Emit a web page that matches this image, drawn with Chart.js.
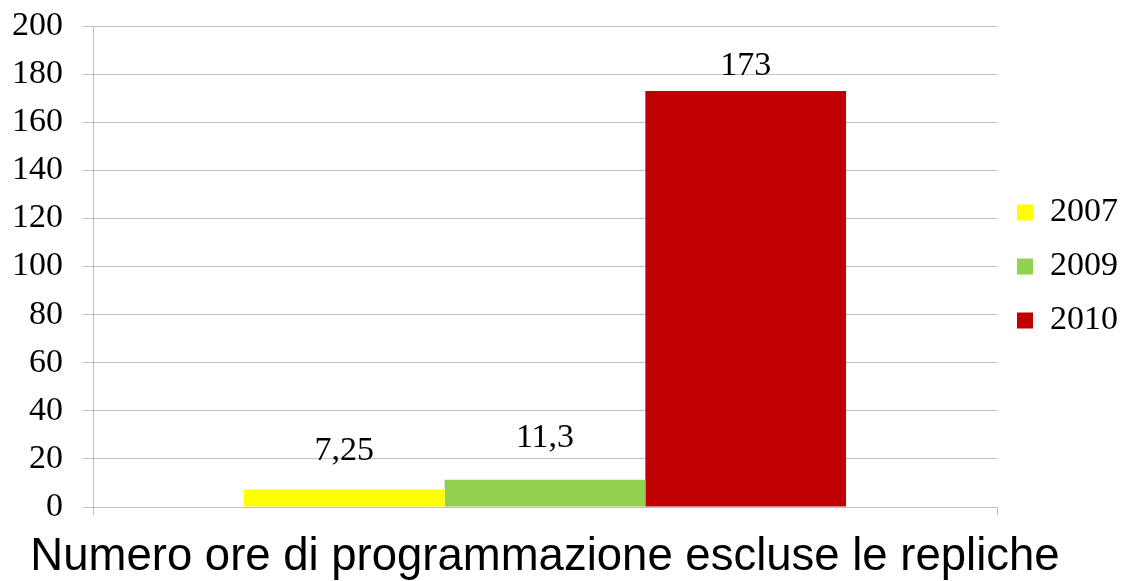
<!DOCTYPE html>
<html>
<head>
<meta charset="utf-8">
<script src="https://cdn.jsdelivr.net/npm/chart.js@4/dist/chart.umd.min.js"></script>
<style>
  html, body { margin: 0; padding: 0; background: #fff; }
  #wrap { width: 1141px; height: 581px; }
</style>
</head>
<body>
<div id="wrap"><canvas id="myChart" width="1141" height="581"></canvas></div>
<script>
// chart data
const categories = [''];
const seriesNames = ['2007', '2009', '2010'];
const values2007 = [7.25];
const values2009 = [11.3];
const values2010 = [173];
const seriesColors = ['#ffff00', '#92d050', '#c00000'];
const yTicks = [0, 20, 40, 60, 80, 100, 120, 140, 160, 180, 200];
const axisTitle = 'Numero ore di programmazione escluse le repliche';

const serif = "'Liberation Serif', 'Times New Roman', serif";
const sans = "'Liberation Sans', Arial, sans-serif";

// italian style decimal comma
function formatValue(v) {
    return String(v).replace('.', ',');
}

// draws the value above every bar
const valueLabels = {
    id: 'valueLabels',
    afterDatasetsDraw(chart, args, opts) {
        const ctx = chart.ctx;
        ctx.save();
        ctx.font = '34px ' + serif;
        ctx.fillStyle = '#000';
        ctx.textAlign = 'center';
        ctx.textBaseline = 'alphabetic';
        chart.data.datasets.forEach((ds, i) => {
            const meta = chart.getDatasetMeta(i);
            meta.data.forEach((bar, j) => {
                const gap = opts.gaps[i];
                ctx.fillText(formatValue(ds.data[j]), bar.x, bar.y - gap);
            });
        });
        ctx.restore();
    }
};

// the axis title is wider than the plot, chart.js would squeeze it, so draw it here
const bottomTitle = {
    id: 'bottomTitle',
    afterDraw(chart, args, opts) {
        const ctx = chart.ctx;
        const area = chart.chartArea;
        ctx.save();
        ctx.font = opts.size + 'px ' + sans;
        ctx.fillStyle = '#000';
        ctx.textAlign = 'center';
        ctx.textBaseline = 'alphabetic';
        ctx.fillText(opts.text, (area.left + area.right) / 2, area.bottom + opts.offset);
        ctx.restore();
    }
};

function initChart(target) {
    const allValues = [values2007, values2009, values2010];
    const datasets = seriesNames.map((name, i) => {
        return {
            label: name,
            data: allValues[i],
            backgroundColor: seriesColors[i],
            borderWidth: 0,
            categoryPercentage: 0.666,
            barPercentage: 1
        };
    });

    return new Chart(target, {
        type: 'bar',
        data: {
            labels: categories,
            datasets: datasets
        },
        options: {
            responsive: false,
            animation: false,
            layout: {
                padding: { left: 0, top: 0, right: 13, bottom: 66 }
            },
            plugins: {
                tooltip: { enabled: false },
                valueLabels: { gaps: [30, 33, 16] },
                bottomTitle: { text: axisTitle, size: 45.5, offset: 63 },
                legend: {
                    position: 'right',
                    fullSize: false,
                    labels: {
                        boxWidth: 16,
                        boxHeight: 16,
                        padding: 20,
                        color: '#000',
                        font: { family: serif, size: 34 }
                    }
                }
            },
            scales: {
                x: {
                    offset: true,
                    grid: {
                        drawOnChartArea: false,
                        offset: true,
                        tickLength: 8,
                        color: '#bfbfbf'
                    },
                    border: { color: '#bfbfbf' },
                    ticks: { display: false }
                },
                y: {
                    min: 0,
                    max: 200,
                    afterBuildTicks: (scale) => {
                        scale.ticks = yTicks.map(v => ({ value: v }));
                    },
                    afterFit: (scale) => {
                        scale.width = 93;
                        scale.paddingTop = 26;
                        scale.paddingBottom = 0;
                    },
                    grid: {
                        color: '#c0c0c0',
                        tickLength: 10
                    },
                    border: { color: '#bfbfbf' },
                    ticks: {
                        color: '#000',
                        padding: 20,
                        font: { family: serif, size: 34 }
                    }
                }
            }
        },
        plugins: [valueLabels, bottomTitle]
    });
}

document.addEventListener('DOMContentLoaded', () => {
    const chart = document.querySelector('#myChart');
    initChart(chart);
});
</script>
</body>
</html>
